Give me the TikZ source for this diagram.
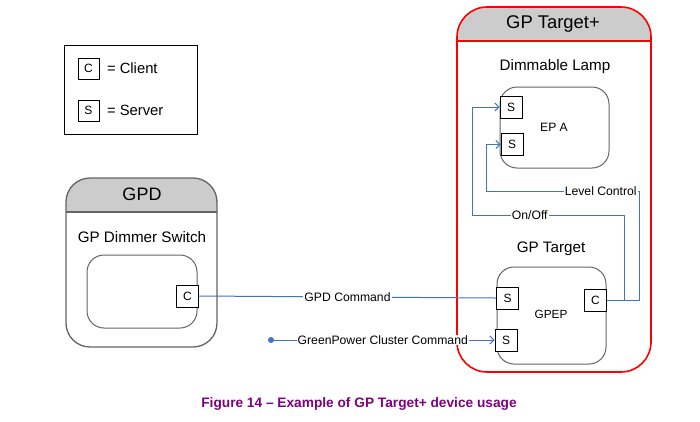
\documentclass[tikz,border=0pt]{standalone}
\usepackage{fontspec}
\setmainfont{Liberation Sans}
\usetikzlibrary{arrows.meta, positioning}
\definecolor{wireBlue}{RGB}{68, 114, 196}
\definecolor{headGray}{RGB}{204, 204, 204}
\definecolor{frameGray}{RGB}{100, 100, 100}
\definecolor{captionPurple}{RGB}{128, 0, 128}
\newcommand{\fsz}[1]{\fontsize{#1}{#1}\selectfont}

\begin{document}
\begin{tikzpicture}[x=1pt, y=-1pt,
	port/.style={draw, fill=white, line width=1pt, minimum width=22pt, minimum height=22pt,
		inner sep=0pt, font=\fsz{12}},
	epbox/.style={draw=frameGray, line width=1pt, rounded corners=17pt},
	devframe/.style={draw=#1, line width=1.3pt, rounded corners=24pt, path picture={
			\fill[headGray, sharp corners] (path picture bounding box.north west)
			rectangle ([yshift=-34pt]path picture bounding box.north east);
			\draw[#1, line width=1.3pt, sharp corners] ([yshift=-34pt]path picture bounding box.north west)
			-- ([yshift=-34pt]path picture bounding box.north east);}},
	wire/.style={draw=wireBlue, line width=1pt},
	wirelabel/.style={fill=white, inner sep=1pt, font=\fsz{12.2}},
	tip/.style={-{Straight Barb[length=4pt, width=8pt]}}]
	\useasboundingbox (0,0) rectangle (700,421);
	% legend
	\node[draw, line width=1pt, minimum width=133pt, minimum height=89pt] (legend) at (130.5,89.5) {};
	\node[port, minimum width=21pt, minimum height=21pt] (keyC) at (88.5,68.5) {C};
	\node[anchor=west, font=\fsz{14.8}] (keyClient) at (103.5,68.5) {= Client};
	\node[port, minimum width=21pt, minimum height=21pt] (keyS) at (88.5,110.5) {S};
	\node[anchor=west, font=\fsz{14.8}] (keyServer) at (103.5,110.5) {= Server};
	% GPD
	\node[devframe=frameGray, minimum width=151pt, minimum height=169pt] (gpd) at (141.5,262.5) {};
	\node[font=\fsz{18}] (gpdTitle) at (142,194) {GPD};
	\node[font=\fsz{15.2}] (dimmer) at (142,237) {GP Dimmer Switch};
	\node[epbox, minimum width=110pt, minimum height=73pt] (dimmerEp) at (142,291.5) {};
	\node[port] (gpdC) at (187.5,296) {C};
	% GP Target+
	\node[devframe=red, line width=1.6pt, rounded corners=30pt, minimum width=194pt, minimum height=365pt]
	(target) at (554,189.5) {};
	\node[font=\fsz{18.4}] (targetTitle) at (553,24) {GP Target+};
	\node[font=\fsz{15.2}] (lamp) at (555,67) {Dimmable Lamp};
	\node[epbox, minimum width=109pt, minimum height=81pt] (epA) at (554.5,127.5) {};
	\node[font=\fsz{12.1}] at (554,127) {EP A};
	\node[port] (lampS1) at (511,107) {S};
	\node[port] (lampS2) at (512,144.5) {S};
	\node[font=\fsz{15.2}] (gpTarget) at (551,249) {GP Target};
	\node[epbox, minimum width=109pt, minimum height=97pt] (gpep) at (551.5,315.5) {};
	\node[font=\fsz{11.8}] at (551,314) {GPEP};
	\node[port] (gpS) at (507.5,298) {S};
	\node[port] (gpccS) at (506,340) {S};
	\node[port] (gpepC) at (595.5,300) {C};
	% connectors
	\coordinate (onoffR) at (624,215);
	\coordinate (onoffL) at (472,215);
	\coordinate (levelR) at (639,191);
	\coordinate (levelL) at (486,191);
	\coordinate (gpcc) at (271,340);
	\draw[wire] (gpdC.east) -- node[wirelabel] {GPD Command} (gpS.west);
	\fill[wireBlue] (gpcc) circle (3pt);
	\draw[wire, tip] (gpcc) -- node[wirelabel] {GreenPower Cluster Command} (gpccS.west);
	\draw[wire, tip] (gpepC.east) -| (onoffR) -- node[wirelabel, pos=0.62] {On/Off} (onoffL) |- (lampS1.west);
	\draw[wire, tip] (gpepC.east) -| (levelR) -- node[wirelabel, pos=0.25] {Level Control} (levelL) |- (lampS2.west);
	% caption
	\node[font=\fsz{13.7}\bfseries, text=captionPurple] (caption) at (359,404)
	{Figure 14 – Example of GP Target+ device usage};
\end{tikzpicture}
\end{document}
